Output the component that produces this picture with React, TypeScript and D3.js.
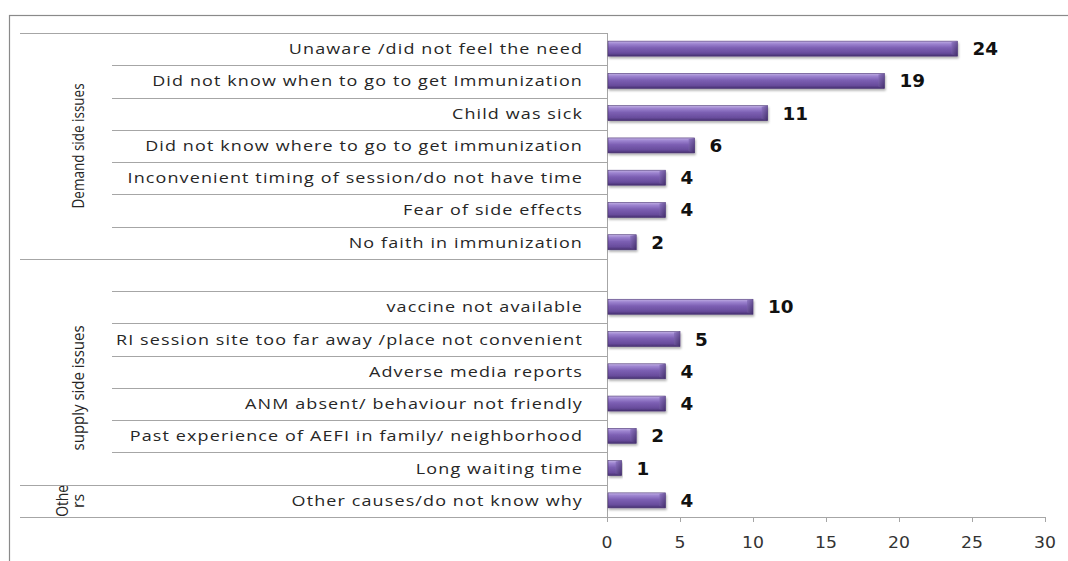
import React from "react";
import * as d3 from "d3";

const demandLabels = [
  "Unaware /did not feel the need",
  "Did not know when to go to get Immunization",
  "Child was sick",
  "Did not know where to go to get immunization",
  "Inconvenient timing of session/do not have time",
  "Fear of side effects",
  "No faith in immunization",
];
const demandValues = [24, 19, 11, 6, 4, 4, 2];

const supplyLabels = [
  "",
  "vaccine not available",
  "RI session site too far away /place not convenient",
  "Adverse media reports",
  "ANM absent/ behaviour not friendly",
  "Past experience of AEFI in family/ neighborhood",
  "Long waiting time",
];
const supplyValues = [null, 10, 5, 4, 4, 2, 1];

const otherLabels = ["Other causes/do not know why"];
const otherValues = [4];

const groupNames = ["Demand side issues", "supply side issues", "Others"];
const xTicks = [0, 5, 10, 15, 20, 25, 30];

type Row = { id: string; label: string; value: number | null; group: number; first: boolean };

const rows: Row[] = [];
[
  [demandLabels, demandValues],
  [supplyLabels, supplyValues],
  [otherLabels, otherValues],
].forEach(([labels, values], g) => {
  (labels as string[]).forEach((l, i) => {
    rows.push({ id: `${g}-${i}`, label: l, value: (values as (number | null)[])[i], group: g, first: i === 0 });
  });
});

const W = 1068;
const H = 561;
const axisX = 607;
const top = 33;
const bottom = 517;
const xMax = 1045;

export default function App() {
  const x = d3.scaleLinear().domain([0, 30]).range([axisX, xMax]);
  const y = d3.scaleBand<string>().domain(rows.map((r) => r.id)).range([top, bottom]).padding(0);
  const bw = y.bandwidth();
  const barH = 15;
  const lineColor = "#a6a6a6";

  const groupExtent = groupNames.map((_, g) => {
    const rs = rows.filter((r) => r.group === g);
    return [y(rs[0].id)!, y(rs[rs.length - 1].id)! + bw];
  });

  return (
    <svg
      width={W}
      height={H}
      style={{ position: "absolute", left: 0, top: 0, background: "#fff" }}
    >
      <defs>
        <linearGradient id="barGrad" x1="0" y1="0" x2="0" y2="1">
          <stop offset="0%" stopColor="#c2b1e4" />
          <stop offset="18%" stopColor="#9d84d0" />
          <stop offset="45%" stopColor="#7c5fb3" />
          <stop offset="80%" stopColor="#684c9c" />
          <stop offset="100%" stopColor="#463070" />
        </linearGradient>
        <linearGradient id="capGrad" x1="0" y1="0" x2="1" y2="1">
          <stop offset="0%" stopColor="#8d74c2" />
          <stop offset="100%" stopColor="#3f2b66" />
        </linearGradient>
        <filter id="shadow" x="-5%" y="-40%" width="115%" height="200%">
          <feDropShadow dx="1" dy="2" stdDeviation="1.2" floodColor="#000" floodOpacity="0.3" />
        </filter>
      </defs>

      {/* outer frame */}
      <rect x={9.5} y={15.5} width={W + 20} height={H + 20} fill="none" stroke="#8a8a8a" strokeWidth={1.2} />

      {/* row separator lines */}
      <line x1={20} x2={axisX} y1={top + 0.5} y2={top + 0.5} stroke={lineColor} />
      {rows.map((r, idx) => {
        const yy = Math.round(y(r.id)! + bw) + 0.5;
        const isGroupEnd = idx === rows.length - 1 || rows[idx + 1].group !== r.group;
        return (
          <line
            key={"l" + r.id}
            x1={isGroupEnd ? 20 : 112}
            x2={axisX}
            y1={yy}
            y2={yy}
            stroke={lineColor}
          />
        );
      })}

      {/* vertical axis */}
      <line x1={axisX + 0.5} x2={axisX + 0.5} y1={top} y2={bottom + 5} stroke={lineColor} />
      {/* horizontal axis */}
      <line x1={axisX} x2={xMax} y1={bottom + 0.5} y2={bottom + 0.5} stroke={lineColor} />
      {xTicks.map((t) => (
        <g key={"t" + t}>
          <line x1={Math.round(x(t)) + 0.5} x2={Math.round(x(t)) + 0.5} y1={bottom} y2={bottom + 5} stroke={lineColor} />
          <text
            transform={`translate(${x(t)},548) scale(1.15,1)`}
            textAnchor="middle"
            fontFamily="DejaVu Sans, Verdana, sans-serif"
            fontSize={15}
            fill="#333"
          >
            {t}
          </text>
        </g>
      ))}

      {/* category labels */}
      {rows.map((r) => (
        <text
          key={"c" + r.id}
          transform={`translate(583,${y(r.id)! + bw / 2 + 5}) scale(1.24,1)`}
          textAnchor="end"
          fontFamily="Open Sans, sans-serif"
          fontSize={14.5}
          letterSpacing={0.9}
          fill="#262626"
        >
          {r.label}
        </text>
      ))}

      {/* group labels */}
      {groupNames.slice(0, 2).map((g, i) => {
        const [a, b] = groupExtent[i];
        const cy = i === 1 ? (a + bw + b) / 2 : (a + b) / 2;
        return (
          <text
            key={"g" + g}
            transform={`translate(84,${cy}) rotate(-90)`}
            textAnchor="middle"
            fontFamily="Open Sans, sans-serif"
            fontSize={16}
            textLength={125}
            lengthAdjust="spacingAndGlyphs"
            fill="#262626"
          >
            {g}
          </text>
        );
      })}
      {(() => {
        const [a, b] = groupExtent[2];
        const cy = (a + b) / 2;
        return (
          <g transform={`translate(68,${cy}) rotate(-90)`}>
            <text textAnchor="middle" fontFamily="Open Sans, sans-serif" fontSize={16} textLength={32} lengthAdjust="spacingAndGlyphs" fill="#262626">
              {groupNames[2].slice(0, 4)}
            </text>
            <text y={16} textAnchor="middle" fontFamily="Open Sans, sans-serif" fontSize={16} fill="#262626">
              {groupNames[2].slice(4)}
            </text>
          </g>
        );
      })()}

      {/* bars */}
      {rows
        .filter((r) => r.value != null)
        .map((r) => {
          const y0 = y(r.id)! + bw / 2 - barH / 2 - 0.5;
          const x0 = x(0) + 1;
          const x1 = x(r.value as number);
          const cap = Math.min(6, (x1 - x0) / 2);
          return (
            <g key={"b" + r.id}>
              <g filter="url(#shadow)">
                <rect x={x0} y={y0} width={x1 - x0} height={barH} fill="url(#barGrad)" stroke="#4a3474" strokeWidth={0.6} />
              </g>
              <polygon
                points={`${x1 - cap},${y0 + 1} ${x1},${y0} ${x1},${y0 + barH} ${x1 - cap},${y0 + barH - 2}`}
                fill="url(#capGrad)"
                opacity={0.85}
              />
              <text
                transform={`translate(${x1 + 15},${y0 + barH / 2 + 6.5}) scale(1.08,1)`}
                fontFamily="DejaVu Sans, Verdana, sans-serif"
                fontWeight="bold"
                fontSize={17}
                fill="#111"
              >
                {r.value}
              </text>
            </g>
          );
        })}
    </svg>
  );
}
